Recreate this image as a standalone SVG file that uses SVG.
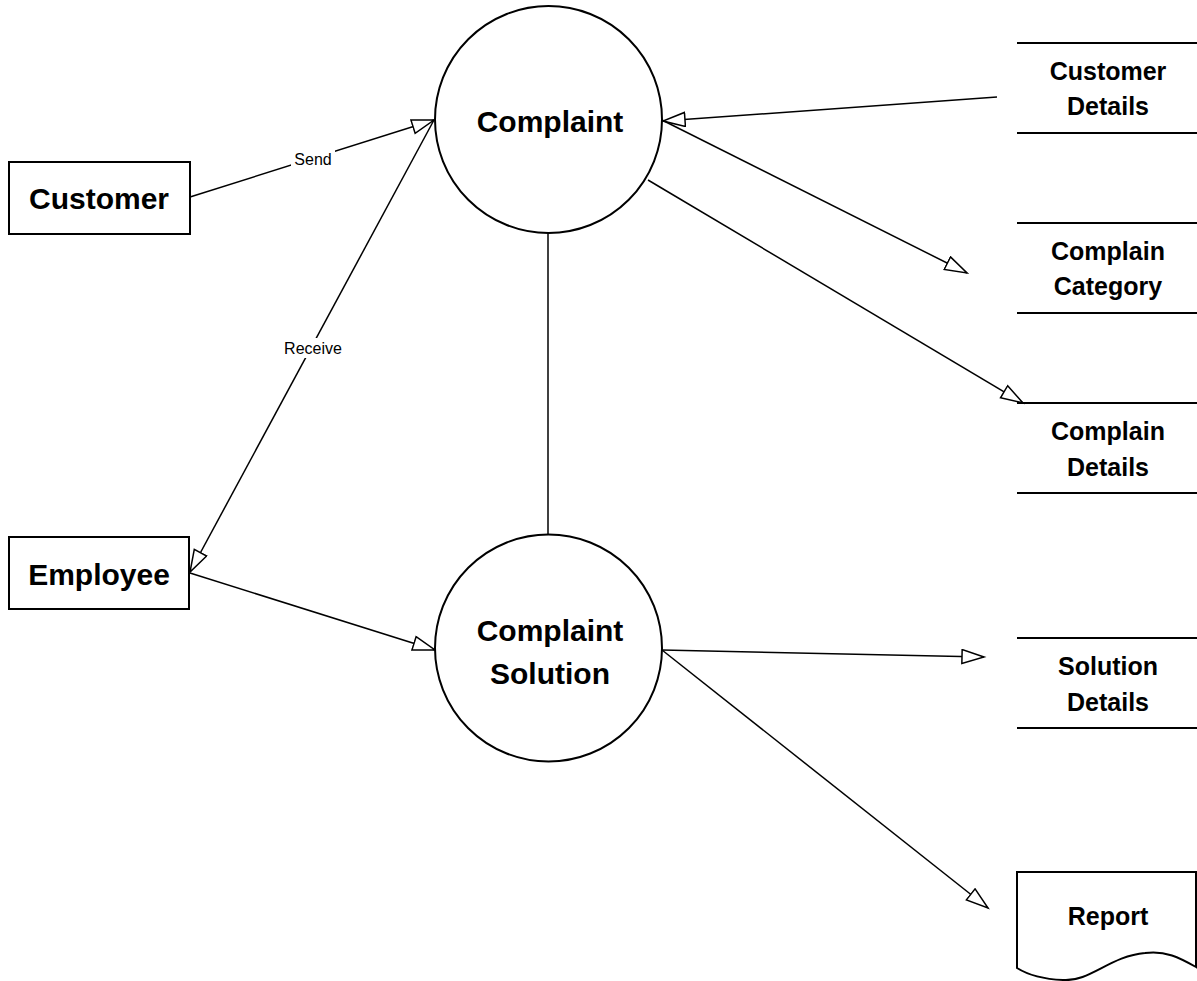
<svg xmlns="http://www.w3.org/2000/svg" width="1197" height="981" viewBox="0 0 1197 981">
<style>
.ln{stroke:#000;stroke-width:1.5;fill:none}
.sh{stroke:#000;stroke-width:2;fill:#fff}
.st{stroke:#000;stroke-width:2}
.t{font-family:"Liberation Sans",Arial,sans-serif;font-weight:bold;text-anchor:middle;fill:#000}
.big{font-size:30px}
.mid{font-size:25px}
.lbl{font-family:"Liberation Sans",Arial,sans-serif;font-size:16px;text-anchor:middle;fill:#000}
</style>
<defs>
<marker id="a" markerUnits="userSpaceOnUse" markerWidth="26" markerHeight="18" refX="23" refY="8" orient="auto" viewBox="0 0 26 18">
<path d="M1,1 L23,8 L1,15 Z" fill="#fff" stroke="#000" stroke-width="1.5"/>
</marker>
</defs>
<rect width="1197" height="981" fill="#fff"/>
<g id="connectors">
<line class="ln" x1="190" y1="197" x2="434" y2="120" marker-end="url(#a)"/>
<line class="ln" x1="434" y1="120" x2="190" y2="572" marker-end="url(#a)"/>
<line class="ln" x1="997" y1="97" x2="663" y2="121" marker-end="url(#a)"/>
<line class="ln" x1="662" y1="120" x2="967" y2="273" marker-end="url(#a)"/>
<line class="ln" x1="648" y1="180" x2="1023" y2="403" marker-end="url(#a)"/>
<line class="ln" x1="548" y1="233" x2="548" y2="534"/>
<line class="ln" x1="190" y1="573" x2="435" y2="650" marker-end="url(#a)"/>
<line class="ln" x1="662" y1="650" x2="984" y2="657" marker-end="url(#a)"/>
<line class="ln" x1="662" y1="650" x2="988" y2="908" marker-end="url(#a)"/>
<rect x="291" y="150" width="44" height="19" fill="#fff"/>
<text class="lbl" x="313" y="165">Send</text>
<rect x="279" y="338" width="68" height="20" fill="#fff"/>
<text class="lbl" x="313" y="354">Receive</text>
</g>
<g id="customer">
<rect class="sh" x="9" y="162" width="181" height="72"/>
<text class="t big" x="99" y="209">Customer</text>
</g>
<g id="employee">
<rect class="sh" x="9" y="537" width="180" height="72"/>
<text class="t big" x="99" y="585">Employee</text>
</g>
<g id="complaint">
<circle class="sh" cx="548.5" cy="119.5" r="113.5"/>
<text class="t big" x="550" y="132">Complaint</text>
</g>
<g id="complaint-solution">
<circle class="sh" cx="548.5" cy="648" r="113.5"/>
<text class="t big" x="550" y="641">Complaint</text>
<text class="t big" x="550" y="684">Solution</text>
</g>
<g id="customer-details">
<line class="st" x1="1017" y1="43" x2="1197" y2="43"/>
<line class="st" x1="1017" y1="133" x2="1197" y2="133"/>
<text class="t mid" x="1108" y="80">Customer</text>
<text class="t mid" x="1108" y="115">Details</text>
</g>
<g id="complain-category">
<line class="st" x1="1017" y1="223" x2="1197" y2="223"/>
<line class="st" x1="1017" y1="313" x2="1197" y2="313"/>
<text class="t mid" x="1108" y="260">Complain</text>
<text class="t mid" x="1108" y="295">Category</text>
</g>
<g id="complain-details">
<line class="st" x1="1017" y1="403" x2="1197" y2="403"/>
<line class="st" x1="1017" y1="493" x2="1197" y2="493"/>
<text class="t mid" x="1108" y="440">Complain</text>
<text class="t mid" x="1108" y="476">Details</text>
</g>
<g id="solution-details">
<line class="st" x1="1017" y1="638" x2="1197" y2="638"/>
<line class="st" x1="1017" y1="728" x2="1197" y2="728"/>
<text class="t mid" x="1108" y="675">Solution</text>
<text class="t mid" x="1108" y="711">Details</text>
</g>
<g id="report">
<path class="sh" d="M1017,872 L1196,872 L1196,967 C1180,958 1165,950 1145,953 C1110,956 1090,982 1063,980 C1040,979 1025,973 1017,968 Z"/>
<text class="t mid" x="1108" y="925">Report</text>
</g>
</svg>
